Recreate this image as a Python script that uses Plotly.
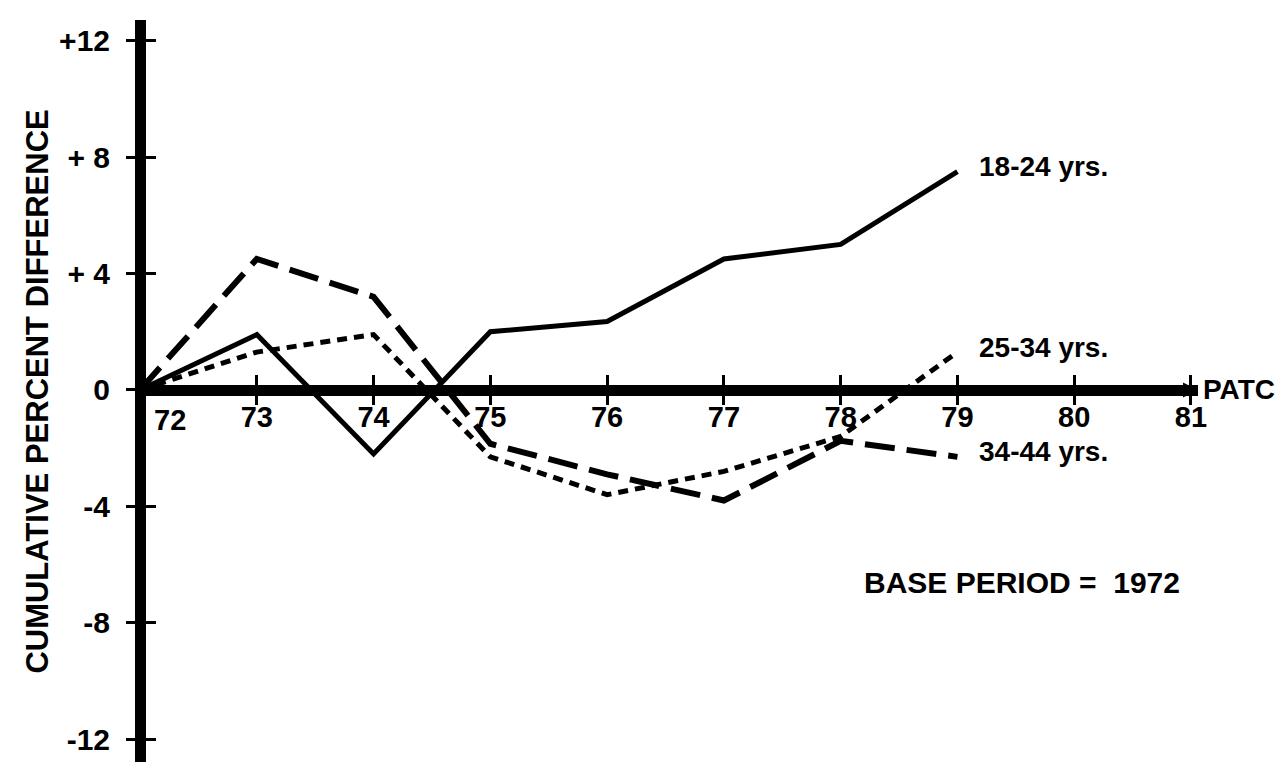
import plotly.graph_objects as go

# ---- data (chart frame) ----
years = [72, 73, 74, 75, 76, 77, 78, 79]
age_18_24 = [0, 1.9, -2.2, 2.0, 2.35, 4.5, 5.0, 7.5]
age_25_34 = [0, 1.3, 1.9, -2.3, -3.6, -2.8, -1.6, 1.3]
age_34_44 = [0, 4.5, 3.2, -1.85, -2.9, -3.8, -1.75, -2.3]
series_names = ["18-24 yrs.", "25-34 yrs.", "34-44 yrs."]

x_tick_vals = [73, 74, 75, 76, 77, 78, 79, 80, 81]
x_tick_text = ["73", "74", "75", "76", "77", "78", "79", "80", "81"]
y_tick_vals = [12, 8, 4, 0, -4, -8, -12]
y_tick_text = ["+12", "+ 8", "+ 4", "0", "-4", "-8", "-12"]

y_title = "CUMULATIVE PERCENT DIFFERENCE"
x_axis_name = "PATC"
base_note = "BASE PERIOD =  1972"

# ---- styling ----
FONT = "Liberation Sans, Arial, Helvetica, sans-serif"
X_RANGE = [72, 81.06]
Y_RANGE = [-13.06, 12.71]
x_pos = (0 - Y_RANGE[0]) / (Y_RANGE[1] - Y_RANGE[0])

xtick_font = dict(family=FONT, size=29, color="black", weight="bold")
ytick_font = dict(family=FONT, size=30, color="black", weight="bold")

fig = go.Figure()

styles = [
    dict(color="black", width=5, dash="solid"),
    dict(color="black", width=5, dash="10px,7px"),
    dict(color="black", width=6, dash="30px,12px"),
]
for vals, name, st in zip([age_18_24, age_25_34, age_34_44], series_names, styles):
    fig.add_trace(go.Scatter(x=years, y=vals, mode="lines", name=name,
                             line=st, showlegend=False, hoverinfo="skip"))

# empty trace to create the overlay axes that carry the inner half of the tick crosses
fig.add_trace(go.Scatter(x=[], y=[], xaxis="x2", yaxis="y2", showlegend=False))

fig.update_layout(
    width=1284, height=762,
    margin=dict(l=132, r=94, t=12, b=0),
    paper_bgcolor="white", plot_bgcolor="white",
    xaxis=dict(range=X_RANGE, anchor="free", position=x_pos,
               showline=True, linewidth=11, linecolor="black",
               ticks="outside", ticklen=9, tickwidth=2.5, tickcolor="black",
               tickvals=x_tick_vals, ticktext=x_tick_text, tickfont=xtick_font,
               ticklabelstandoff=-13,
               showgrid=False, zeroline=False, fixedrange=True),
    xaxis2=dict(range=X_RANGE, overlaying="x", anchor="free", position=x_pos,
                showline=False, ticks="inside", ticklen=15, tickwidth=2.5,
                tickcolor="black", tickvals=x_tick_vals, showticklabels=False,
                showgrid=False, zeroline=False),
    yaxis=dict(range=Y_RANGE, anchor="free", position=0,
               showline=True, linewidth=11, linecolor="black",
               ticks="outside", ticklen=9, tickwidth=2.5, tickcolor="black",
               tickvals=y_tick_vals, ticktext=y_tick_text, tickfont=ytick_font,
               ticklabelstandoff=10,
               showgrid=False, zeroline=False, fixedrange=True),
    yaxis2=dict(range=Y_RANGE, overlaying="y", anchor="free", position=0,
                showline=False, ticks="inside", ticklen=15, tickwidth=2.5,
                tickcolor="black", tickvals=y_tick_vals, showticklabels=False,
                showgrid=False, zeroline=False),
)

label_font = dict(family=FONT, size=28, color="black", weight="bold")
big_font = dict(family=FONT, size=30, color="black", weight="bold")
annotations = []
# series labels attached to the end of each line
for vals, name in zip([age_18_24, age_25_34, age_34_44], series_names):
    annotations.append(dict(x=years[-1], y=vals[-1], xref="x", yref="y",
                            text=name, showarrow=False, xanchor="left",
                            yanchor="middle", xshift=20, yshift=5, font=label_font))
# first category label sits to the right of the vertical axis
annotations.append(dict(x=72, y=0, xref="x", yref="y", text="72", showarrow=False,
                        xanchor="center", yanchor="top", xshift=30, yshift=-12,
                        font=xtick_font))
# axis name with arrowhead at the end of the horizontal axis
annotations.append(dict(x=X_RANGE[1], y=0, xref="x", yref="y", text="",
                        showarrow=True, ax=-14, ay=0, arrowhead=2, arrowsize=1,
                        arrowwidth=3, arrowcolor="black"))
annotations.append(dict(x=X_RANGE[1], y=0, xref="x", yref="y", text=x_axis_name,
                        showarrow=False, xanchor="left", yanchor="middle",
                        xshift=3, font=dict(family=FONT, size=28, color="black", weight="bold")))
annotations.append(dict(x=0.682, y=0.25, xref="paper", yref="paper", text=base_note,
                        showarrow=False, xanchor="left", yanchor="middle",
                        font=big_font))
annotations.append(dict(x=-0.097, y=0.505, xref="paper", yref="paper", text=y_title,
                        showarrow=False, textangle=-90, xanchor="center", yanchor="middle",
                        font=dict(family=FONT, size=31, color="black", weight="bold")))
fig.update_layout(annotations=annotations)

fig.write_html("out.html")
